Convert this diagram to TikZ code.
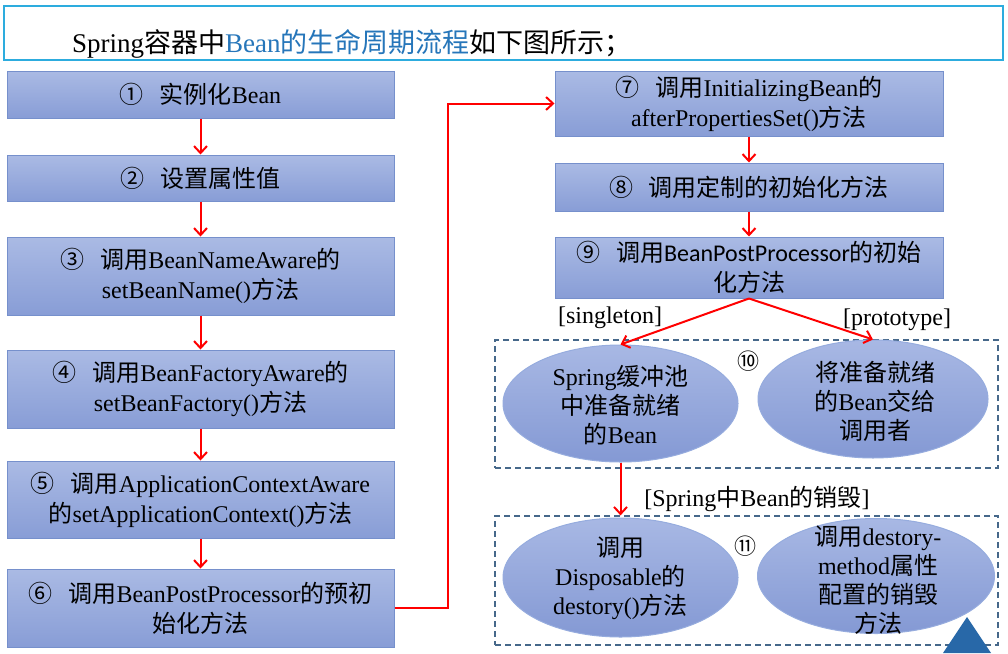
\documentclass[tikz,border=0pt]{standalone}
\usepackage{fontspec}
\setmainfont{Liberation Serif}
\newfontfamily\zhfont{Noto Sans CJK SC}
\newfontfamily\calfont{Carlito}
\usetikzlibrary{shapes.geometric,arrows.meta}
\newcommand{\zh}[1]{{\zhfont #1}}
\newcommand{\cnum}[1]{{\zhfont #1}\hspace{16pt}}
\definecolor{boxtop}{RGB}{170,186,228}
\definecolor{boxbot}{RGB}{136,157,214}
\definecolor{boxline}{RGB}{118,144,204}
\definecolor{elltop}{RGB}{168,184,228}
\definecolor{ellbot}{RGB}{132,153,212}
\definecolor{ellline}{RGB}{150,172,222}
\definecolor{grpline}{RGB}{70,104,138}
\definecolor{titleline}{RGB}{45,172,222}
\definecolor{titleblue}{RGB}{38,118,186}
\definecolor{tri}{RGB}{40,104,168}
\tikzset{
  stepbox/.style={draw=boxline, line width=1pt, top color=boxtop, bottom color=boxbot,
    align=center, font=\fontsize{24}{30}\selectfont, inner sep=2pt},
  ell/.style={ellipse, draw=ellline, line width=1pt, top color=elltop, bottom color=ellbot, inner sep=0pt},
  etext/.style={align=center, font=\fontsize{24}{29}\selectfont, inner sep=0pt},
  arr/.style={draw=red, line width=2pt, -{Straight Barb[length=7pt,width=13pt]}},
  grp/.style={draw=grpline, dash pattern=on 6pt off 4pt, line width=1.2pt, inner sep=0pt},
  lbl/.style={font=\fontsize{24}{28}\selectfont, inner sep=0pt},
  cnumlbl/.style={font=\zhfont\fontsize{22}{24}\selectfont, inner sep=0pt}
}
\begin{document}
\begin{tikzpicture}[x=1pt,y=-1pt]
\useasboundingbox (0,0) rectangle (1008,653);
\fill[white] (0,0) rectangle (1008,653);
% title
\node[draw=titleline, line width=1.8pt, minimum width=999pt, minimum height=54pt, inner sep=0pt] (title) at (503.5,33) {};
\node[anchor=base west, font=\fontsize{27}{30}\selectfont, inner sep=0pt] (titletext) at (72,52)
  {Spring\zh{容器中}\textcolor{titleblue}{Bean\zh{的生命周期流程}}\zh{如下图所示；}};
% left column
\node[stepbox, minimum width=387pt, minimum height=47pt] (b1) at (200.5,94.5) {\cnum{①}\zh{实例化}Bean};
\node[stepbox, minimum width=387pt, minimum height=46pt] (b2) at (200.5,178) {\cnum{②}\zh{设置属性值}};
\node[stepbox, minimum width=387pt, minimum height=78pt] (b3) at (200.5,276) {\cnum{③}\zh{调用}BeanNameAware\zh{的}\\setBeanName()\zh{方法}};
\node[stepbox, minimum width=387pt, minimum height=78pt] (b4) at (200.5,389) {\cnum{④}\zh{调用}BeanFactoryAware\zh{的}\\setBeanFactory()\zh{方法}};
\node[stepbox, minimum width=387pt, minimum height=77pt] (b5) at (200.5,499.5) {\cnum{⑤}\zh{调用}ApplicationContextAware\\\zh{的}setApplicationContext()\zh{方法}};
\node[stepbox, minimum width=387pt, minimum height=78pt] (b6) at (200.5,608) {\cnum{⑥}\zh{调用}BeanPostProcessor\zh{的预初}\\\zh{始化方法}};
% right column
\node[stepbox, minimum width=388pt, minimum height=65pt] (b7) at (749,103.5) {\cnum{⑦}\zh{调用}InitializingBean\zh{的}\\afterPropertiesSet()\zh{方法}};
\node[stepbox, minimum width=388pt, minimum height=48pt] (b8) at (749,187) {\cnum{⑧}\zh{调用定制的初始化方法}};
\node[stepbox, minimum width=388pt, minimum height=61pt] (b9) at (749,267.5) {\cnum{⑨}\zh{调用}{\calfont BeanPostProcessor}\zh{的初始}\\\zh{化方法}};
% groups
\node[grp, minimum width=503pt, minimum height=128pt] (g10) at (746.5,404) {};
\node[grp, minimum width=503pt, minimum height=129pt] (g11) at (746.5,580.5) {};
% ellipses
\node[ell, minimum width=235pt, minimum height=117pt] (e1) at (620.5,403.5) {};
\node[ell, minimum width=230pt, minimum height=118pt] (e2) at (873,399) {};
\node[ell, minimum width=235pt, minimum height=119pt] (e3) at (620.5,577.5) {};
\node[ell, minimum width=237pt, minimum height=115pt] (e4) at (876,576) {};
\node[etext] (e1t) at (620.5,405) {Spring\zh{缓冲池}\\\zh{中准备就绪}\\\zh{的}Bean};
\node[etext] (e2t) at (875,401) {\zh{将准备就绪}\\\zh{的}Bean\zh{交给}\\\zh{调用者}};
\node[etext] (e3t) at (620.5,578) {\zh{调用}\\Disposable\zh{的}\\destory()\zh{方法}};
\node[etext] (e4t) at (878,580) {\zh{调用}destory-\\method\zh{属性}\\\zh{配置的销毁}\\\zh{方法}};
\node[cnumlbl] (n10) at (748,361) {⑩};
\node[cnumlbl] (n11) at (745,546) {⑪};
% labels
\node[lbl] (lsing) at (610,318) {[singleton]};
\node[lbl] (lproto) at (897,320) {[prototype]};
\node[lbl] (ldest) at (757,499) {[Spring\zh{中}Bean\zh{的销毁}]};
% connectors
\draw[arr] (b1) -- (b2);
\draw[arr] (b2) -- (b3);
\draw[arr] (b3) -- (b4);
\draw[arr] (b4) -- (b5);
\draw[arr] (b5) -- (b6);
\coordinate (jx) at (448,0);
\draw[arr] (b6.east) -- (b6.east -| jx) |- (b7.west);
\draw[arr] (b7) -- (b8);
\draw[arr] (b8) -- (b9);
\draw[arr] (b9.south) -- (e1.north);
\draw[arr] (b9.south) -- (e2.north);
\draw[arr] (e1.south) -- (e1.south |- g11.north);
% corner mark
\fill[tri] (967,617) -- (991,653) -- (943,653) -- cycle;
\end{tikzpicture}
\end{document}
